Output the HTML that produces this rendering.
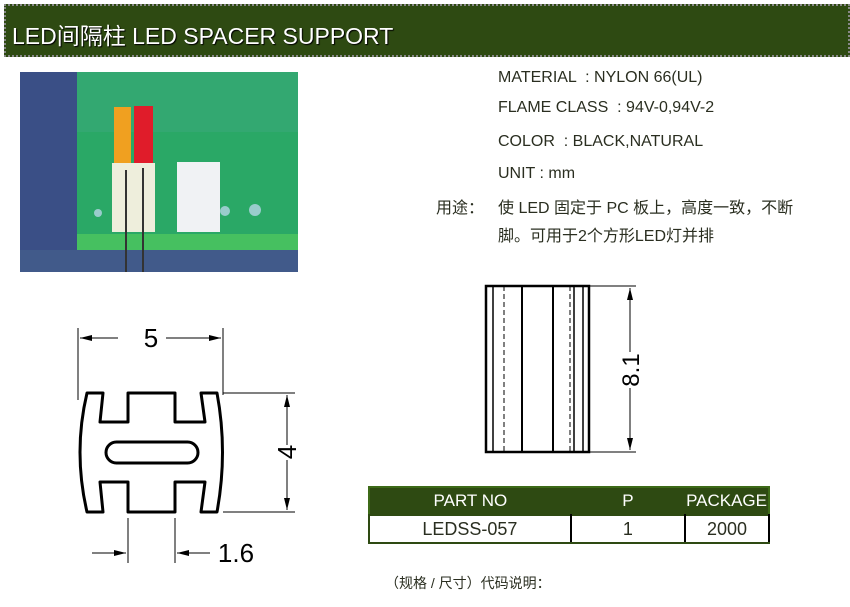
<!DOCTYPE html>
<html><head><meta charset="utf-8"><style>
body{margin:0;width:850px;height:607px;background:#fff;position:relative;overflow:hidden;font-family:"Liberation Sans","Noto Sans CJK SC",sans-serif;}
.hdr{position:absolute;left:4px;top:4px;width:842px;height:49px;background:#2e4a12;border:2px dotted #888;}
.hdr span{position:absolute;left:6px;top:11px;color:#fff;font-size:23px;text-shadow:1px 1px 1px #000;}
.t{position:absolute;font-size:16px;color:#2a2e20;white-space:nowrap;}
svg{position:absolute;left:0;top:0;}
table{position:absolute;left:368px;top:486px;width:402px;border-collapse:collapse;font-size:17px;}
</style></head><body>
<div class="hdr"><span>LED间隔柱 LED SPACER SUPPORT</span></div>
<div class="t" style="left:498px;top:69px">MATERIAL &nbsp;: NYLON 66(UL)</div>
<div class="t" style="left:498px;top:99px">FLAME CLASS &nbsp;: 94V-0,94V-2</div>
<div class="t" style="left:498px;top:133px">COLOR &nbsp;: BLACK,NATURAL</div>
<div class="t" style="left:498px;top:165px">UNIT : mm</div>
<div class="t" style="left:436px;top:194px">用途：</div>
<div class="t" style="left:498px;top:194px">使 LED 固定于 PC 板上，高度一致，不断</div>
<div class="t" style="left:498px;top:222px">脚。可用于2个方形LED灯并排</div>
<div class="t" style="left:385px;top:573px;font-size:14px">（规格 / 尺寸）代码说明：</div>
<svg width="850" height="607" viewBox="0 0 850 607">
<defs><marker id="a" markerWidth="12" markerHeight="6" refX="12" refY="3" orient="auto" markerUnits="userSpaceOnUse"><path d="M0,0 L12,3 L0,6z" fill="#000"/></marker></defs>
<rect x="20" y="72" width="278" height="200" fill="#3a4f86"/>
<rect x="77" y="72" width="221" height="165" fill="#2aa866"/>
<rect x="77" y="72" width="221" height="60" fill="#3aa878" opacity=".6"/>
<rect x="77" y="234" width="221" height="16" fill="#46c060"/>
<rect x="20" y="250" width="278" height="22" fill="#415a8a"/>
<circle cx="255" cy="210" r="6" fill="#9cc"/><circle cx="225" cy="211" r="5" fill="#9cc"/><circle cx="98" cy="213" r="4" fill="#9cc"/>
<rect x="114" y="107" width="17" height="62" fill="#f0a020"/>
<rect x="134" y="106" width="19" height="62" fill="#e01c2a"/>
<rect x="112" y="163" width="43" height="69" fill="#eeeedc"/>
<rect x="177" y="162" width="43" height="70" fill="#f0f2f4"/>
<line x1="126" y1="170" x2="126" y2="272" stroke="#333" stroke-width="2"/>
<line x1="143" y1="168" x2="143" y2="272" stroke="#333" stroke-width="2"/>
<g stroke="#000" fill="none">
<line x1="78" y1="328" x2="78" y2="400" stroke-width="1"/>
<line x1="223" y1="328" x2="223" y2="395" stroke-width="1"/>
<line x1="118" y1="338" x2="80" y2="338" marker-end="url(#a)"/>
<line x1="166" y1="338" x2="221" y2="338" marker-end="url(#a)"/>
<path d="M87,393 L103,393 L100,422 L128,422 L128,393 L175,393 L175,422 L205,422 L201,393 L217,393 Q228,452 217,512 L201,512 L205,482 L175,482 L175,512 L128,512 L128,482 L100,482 L103,512 L87,512 Q73,452 87,393Z" stroke-width="3" stroke-linejoin="round"/>
<rect x="106" y="442" width="92" height="21" rx="10.5" stroke-width="3"/>
<line x1="223" y1="393" x2="295" y2="393"/>
<line x1="223" y1="512" x2="295" y2="512"/>
<line x1="287" y1="445" x2="287" y2="395" marker-end="url(#a)"/>
<line x1="287" y1="460" x2="287" y2="510" marker-end="url(#a)"/>
<line x1="128" y1="518" x2="128" y2="563"/>
<line x1="175" y1="518" x2="175" y2="563"/>
<line x1="92" y1="553" x2="126" y2="553" marker-end="url(#a)"/>
<line x1="210" y1="553" x2="177" y2="553" marker-end="url(#a)"/>
<rect x="486" y="286" width="103" height="166" stroke-width="2.5"/>
<line x1="493" y1="286" x2="493" y2="452" stroke-width="1.5"/>
<line x1="504" y1="286" x2="504" y2="452" stroke-width="1" stroke-dasharray="5,3"/>
<line x1="522" y1="286" x2="522" y2="452" stroke-width="2"/>
<line x1="553" y1="286" x2="553" y2="452" stroke-width="2"/>
<line x1="570" y1="286" x2="570" y2="452" stroke-width="1" stroke-dasharray="5,3"/>
<line x1="574" y1="286" x2="574" y2="452" stroke-width="1.5"/>
<line x1="583" y1="286" x2="583" y2="452" stroke-width="1.5"/>
<line x1="589" y1="286" x2="636" y2="286"/>
<line x1="589" y1="452" x2="636" y2="452"/>
<line x1="630" y1="352" x2="630" y2="288" marker-end="url(#a)"/>
<line x1="630" y1="388" x2="630" y2="450" marker-end="url(#a)"/>
</g>
<text x="151" y="347" font-size="26" text-anchor="middle" font-family="Liberation Sans">5</text>
<text transform="translate(296,452) rotate(-90)" font-size="26" text-anchor="middle" font-family="Liberation Sans">4</text>
<text x="236" y="562" font-size="26" text-anchor="middle" font-family="Liberation Sans">1.6</text>
<text transform="translate(639,370) rotate(-90)" font-size="24" text-anchor="middle" font-family="Liberation Sans">8.1</text>
</svg>
<table>
<tr style="background:#2e4a12;color:#fff;height:28px;border:2px solid #3d6a18"><td style="text-align:center;width:201px">PART NO</td><td style="text-align:center;width:114px">P</td><td style="text-align:center">PACKAGE</td></tr>
<tr style="height:28px;color:#2a2e20;font-size:18px"><td style="text-align:center;border:2px solid #2e4a12;border-right-color:#000">LEDSS-057</td><td style="text-align:center;border:2px solid #2e4a12;border-left-color:#000;border-right-color:#000">1</td><td style="text-align:center;border:2px solid #2e4a12;border-right-color:#000">2000</td></tr>
</table>
</body></html>
